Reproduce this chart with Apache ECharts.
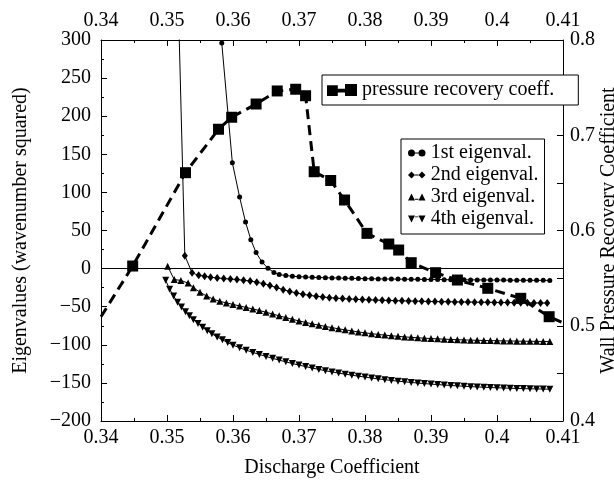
<!DOCTYPE html>
<html><head><meta charset="utf-8">
<script src="https://cdn.jsdelivr.net/npm/echarts@6/dist/echarts.min.js"></script>
<style>html,body{margin:0;padding:0;background:#fff}#c{width:614px;height:482px}</style>
</head><body><div id="c"></div>
<script>
// ---- data ----
const xTicks = [0.34, 0.35, 0.36, 0.37, 0.38, 0.39, 0.40, 0.41];
const seriesNames = ['1st eigenval.', '2nd eigenval.', '3rd eigenval.', '4th eigenval.', 'pressure recovery coeff.'];

const eig1 = [[0.3583,296],[0.3599,139],[0.3610,94],[0.3619,61],[0.3627,38],[0.3635,21],[0.3644,8.5],[0.3653,0.5],[0.3662,-5],
[0.367,-7.8],[0.368,-9.2],[0.369,-10],[0.370,-10.6],[0.371,-11],[0.372,-11.4],[0.373,-11.7],[0.374,-12],[0.375,-12.2],[0.376,-12.4],
[0.377,-12.6],[0.378,-12.8],[0.379,-13],[0.380,-13.2],[0.381,-13.3],[0.382,-13.5],[0.383,-13.6],[0.384,-13.7],[0.385,-13.8],[0.386,-13.9],
[0.387,-14],[0.388,-14.1],[0.389,-14.2],[0.390,-14.3],[0.391,-14.4],[0.392,-14.5],[0.393,-14.6],[0.394,-14.6],[0.395,-14.7],[0.396,-14.8],
[0.397,-14.8],[0.398,-14.9],[0.399,-15],[0.400,-15],[0.401,-15.1],[0.402,-15.2],[0.403,-15.2],[0.404,-15.3],[0.405,-15.3],[0.406,-15.4],
[0.407,-15.4],[0.408,-15.5]];

const eig2 = [[0.3518,320],[0.3527,17],[0.3538,-5.5],[0.3548,-8.8],[0.3557,-10],[0.3566,-11.4],[0.3576,-12.2],[0.3586,-13.1],[0.3596,-13.7],
[0.3606,-14.4],[0.3616,-15.3],[0.3626,-16.4],[0.3636,-17.8],[0.3646,-19.8],[0.3656,-22.2],[0.3666,-24.9],[0.3676,-27.6],[0.3686,-30],
[0.3696,-32],[0.3706,-33.7],[0.3716,-35.1],[0.3726,-36.3],[0.3736,-37.3],[0.3746,-38.1],[0.3756,-38.8],[0.3766,-39.4],[0.3776,-39.9],
[0.3786,-40.3],[0.3796,-40.7],[0.3806,-41],[0.3816,-41.3],[0.3826,-41.6],[0.3836,-41.8],[0.3846,-42.1],[0.3856,-42.3],[0.3866,-42.5],
[0.3876,-42.7],[0.3886,-42.9],[0.3896,-43.1],[0.3906,-43.2],[0.3916,-43.4],[0.3926,-43.5],[0.3936,-43.7],[0.3946,-43.8],[0.3956,-43.9],
[0.3966,-44],[0.3976,-44.2],[0.3986,-44.3],[0.3996,-44.4],[0.4006,-44.5],[0.4016,-44.6],[0.4026,-44.7],[0.4036,-44.8],[0.4046,-44.9],
[0.4056,-45],[0.4066,-45.1],[0.4076,-45.2]];

const eig3 = [[0.3501,3],[0.3511,-14.4],[0.3521,-15.5],[0.3532,-19],[0.3540,-25],[0.3550,-31],[0.3560,-36],[0.357,-40],[0.358,-43],
[0.359,-45],[0.360,-47],[0.361,-49],[0.362,-51],[0.363,-53],[0.364,-55],[0.365,-57.3],[0.366,-59.6],[0.367,-62],[0.368,-64.3],
[0.369,-66.5],[0.370,-68.7],[0.371,-70.6],[0.372,-72.5],[0.373,-74.2],[0.374,-75.9],[0.375,-77.5],[0.376,-79],[0.377,-80.4],
[0.378,-81.8],[0.379,-83.1],[0.380,-84.3],[0.381,-85.4],[0.382,-86.4],[0.383,-87.3],[0.384,-88.1],[0.385,-88.9],[0.386,-89.6],
[0.387,-90.2],[0.388,-90.8],[0.389,-91.3],[0.390,-91.8],[0.391,-92.2],[0.392,-92.6],[0.393,-93],[0.394,-93.3],[0.395,-93.6],
[0.396,-93.9],[0.397,-94.1],[0.398,-94.3],[0.399,-94.5],[0.400,-94.7],[0.401,-94.9],[0.402,-95],[0.403,-95.2],[0.404,-95.3],
[0.405,-95.4],[0.406,-95.5],[0.407,-95.6],[0.408,-95.7]];

const eig4 = [[0.3498,-15.4],[0.3504,-27],[0.3510,-36],[0.3516,-44],[0.3522,-50.5],[0.3528,-56.5],[0.3534,-62],[0.3540,-67],[0.3547,-72],
[0.3554,-77],[0.3561,-81.5],[0.3568,-85.5],[0.3576,-89.8],[0.3584,-93.5],[0.3592,-97],[0.3600,-100.5],[0.361,-103.8],[0.362,-107],
[0.363,-110],[0.364,-112.7],[0.365,-115.3],[0.366,-117.8],[0.367,-120.1],[0.368,-122.4],[0.369,-124.6],[0.370,-126.6],[0.371,-128.6],
[0.372,-130.5],[0.373,-132.3],[0.374,-134],[0.375,-135.6],[0.376,-137.1],[0.377,-138.5],[0.378,-139.9],[0.379,-141.2],[0.380,-142.4],
[0.381,-143.6],[0.382,-144.7],[0.383,-145.8],[0.384,-146.8],[0.385,-147.7],[0.386,-148.6],[0.387,-149.4],[0.388,-150.2],[0.389,-150.9],
[0.390,-151.6],[0.391,-152.2],[0.392,-152.8],[0.393,-153.4],[0.394,-153.9],[0.395,-154.4],[0.396,-154.9],[0.397,-155.3],[0.398,-155.7],
[0.399,-156.1],[0.400,-156.4],[0.401,-156.7],[0.402,-157],[0.403,-157.3],[0.404,-157.5],[0.405,-157.7],[0.406,-157.9],[0.407,-158.1],
[0.408,-158.3]];

const pressure = [[0.34,0.5095],[0.3448,0.5627],[0.3528,0.6607],[0.3578,0.7063],[0.3598,0.7189],[0.3635,0.7328],[0.3667,0.7465],
[0.3695,0.7483],[0.3710,0.7415],[0.3723,0.6617],[0.3748,0.6525],[0.3769,0.632],[0.3803,0.597],[0.3836,0.5858],[0.3851,0.5795],
[0.3870,0.5662],[0.3907,0.5557],[0.3940,0.548],[0.3986,0.5393],[0.4036,0.5288],[0.4079,0.5095],[0.41,0.503]];

// ---- chart ----
const FONT = "'Liberation Serif','Times New Roman',serif";
const X_MIN = xTicks[0], X_MAX = xTicks[xTicks.length - 1];
const txt = {color:'#000', fontSize:20, fontFamily:FONT};
const minus = s => String(s).replace('-', '\u2212');

function xAxisCfg(pos, withName) {
  const a = {
    type:'value', position:pos, min:X_MIN, max:X_MAX, interval:0.01,
    axisLine:{show:true, onZero:false, lineStyle:{color:'#000', width:1}},
    axisTick:{show:true, inside:true, length:6, lineStyle:{color:'#000'}},
    minorTick:{show:true, splitNumber:2, length:3, lineStyle:{color:'#000'}},
    splitLine:{show:false},
    axisLabel:Object.assign({margin:pos === 'top' ? 9 : 7, formatter:v => String(+v.toFixed(2))}, txt)
  };
  if (withName) {
    a.name = 'Discharge Coefficient';
    a.nameLocation = 'middle';
    a.nameGap = 37;
    a.nameMoveOverlap = false;
    a.nameTextStyle = txt;
  }
  return a;
}

const icons = {
  circle:'path://M0,4a4,4 0 1,0 8,0a4,4 0 1,0 -8,0zM8,3.5h4v1h-4zM12,4a4,4 0 1,0 8,0a4,4 0 1,0 -8,0z',
  diamond:'path://M0,4L4,0L8,4L4,8ZM8,3.5h4v1h-4zM12,4L16,0L20,4L16,8Z',
  up:'path://M0,8L4,0L8,8ZM8,6h4v1h-4zM12,8L16,0L20,8Z',
  down:'path://M0,0L4,8L8,0ZM8,1h4v1h-4zM12,0L16,8L20,0Z',
  square:'path://M0,1h9v9h-9zM9,4h6v3h-6zM15,0h10v10h-10z'
};

function eigSeries(name, data, symbol, size, rotate) {
  return {
    name, type:'line', xAxisIndex:0, yAxisIndex:0, data, symbol, symbolSize:size, symbolRotate:rotate || 0,
    showAllSymbol:true, clip:true,
    itemStyle:{color:'#000'}, lineStyle:{color:'#000', width:1}
  };
}

const s1 = eigSeries(seriesNames[0], eig1, 'circle', 5);
s1.markLine = {silent:true, symbol:'none', label:{show:false}, animation:false,
  lineStyle:{color:'#000', width:1, type:'solid'}, data:[{yAxis:0}]};

const pressureData = pressure.map(p => (p[0] <= X_MIN || p[0] >= X_MAX) ? {value:p, symbolSize:0} : {value:p});

const option = {
  animation:false,
  backgroundColor:'#fff',
  textStyle:{fontFamily:FONT},
  grid:{left:101, right:51, top:40, bottom:61, containLabel:false, outerBoundsMode:'none'},
  xAxis:[xAxisCfg('bottom', true), xAxisCfg('top', false)],
  yAxis:[
    {type:'value', position:'left', min:-200, max:300, interval:50,
     axisLine:{show:true, onZero:false, lineStyle:{color:'#000'}},
     axisTick:{show:true, inside:true, length:6, lineStyle:{color:'#000'}},
     minorTick:{show:true, splitNumber:2, length:3, lineStyle:{color:'#000'}},
     splitLine:{show:false},
     axisLabel:Object.assign({margin:10, formatter:v => minus(v)}, txt),
     name:'Eigenvalues (wavenumber squared)', nameLocation:'middle', nameRotate:90, nameGap:70,
     nameMoveOverlap:false, nameTextStyle:txt},
    {type:'value', position:'right', min:0.4, max:0.8, interval:0.1,
     axisLine:{show:true, onZero:false, lineStyle:{color:'#000'}},
     axisTick:{show:true, inside:true, length:6, lineStyle:{color:'#000'}},
     minorTick:{show:true, splitNumber:2, length:6, lineStyle:{color:'#000'}},
     splitLine:{show:false},
     axisLabel:Object.assign({margin:7, formatter:v => String(+v.toFixed(1))}, txt),
     name:'Wall Pressure Recovery Coefficient', nameLocation:'middle', nameRotate:90, nameGap:36,
     nameMoveOverlap:false, nameTextStyle:txt}
  ],
  legend:[
    {data:[{name:seriesNames[4], icon:icons.square}], selectedMode:false, left:322, top:75,
     itemWidth:30, itemHeight:12, padding:[5,24,5,5], borderColor:'#000', borderWidth:1,
     backgroundColor:'#fff', textStyle:txt, z:10},
    {data:[{name:seriesNames[0], icon:icons.circle},{name:seriesNames[1], icon:icons.diamond},
           {name:seriesNames[2], icon:icons.up},{name:seriesNames[3], icon:icons.down}],
     selectedMode:false, orient:'vertical', left:401, top:139, itemWidth:18, itemHeight:7, itemGap:2,
     padding:[4,6,5,7], borderColor:'#000', borderWidth:1, backgroundColor:'#fff',
     textStyle:Object.assign({lineHeight:19}, txt), z:10}
  ],
  series:[
    s1,
    eigSeries(seriesNames[1], eig2, 'diamond', [6,8]),
    eigSeries(seriesNames[2], eig3, 'triangle', 7),
    eigSeries(seriesNames[3], eig4, 'triangle', 7, 180),
    {name:seriesNames[4], type:'line', xAxisIndex:0, yAxisIndex:1, data:pressureData, symbol:'rect', symbolSize:11,
     clip:true, itemStyle:{color:'#000'}, lineStyle:{color:'#000', width:3, type:[10,6]}, z:5}
  ]
};

const chart = echarts.init(document.getElementById('c'), null, {renderer:'canvas'});
chart.setOption(option);
</script></body></html>
